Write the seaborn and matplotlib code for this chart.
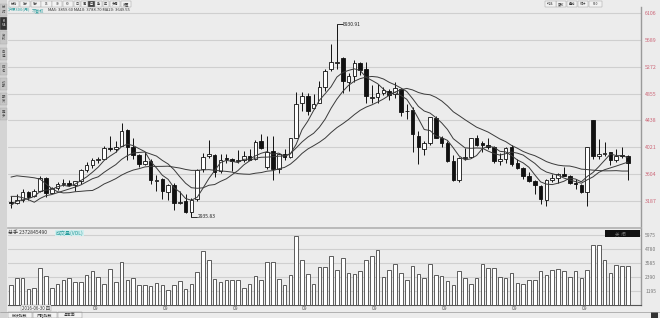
import numpy as np
import pandas as pd
import matplotlib
matplotlib.use("Agg")
import matplotlib.pyplot as plt
import seaborn as sns

# ---------------- data (monthly candles, index 0 = first month shown) ----------------
prior_closes = [2808.8, 3533.7, 3434.4, 3572.8, 3966.0, 4749.9, 4840.8, 4473.0, 3816.7,
                3366.5, 3203.0, 3534.1, 3566.4, 3731.0, 2946.1, 2877.5, 3218.1, 3156.8, 3169.6]

opens = [3170, 3150, 3200, 3325, 3265, 3336, 3538, 3313, 3390, 3450, 3460, 3436, 3490, 3660, 3740, 3823,
         3838, 4005, 3998, 4045, 4280, 4030, 3900, 3757, 3800, 3500, 3520, 3330, 3430, 3155, 3180, 3017,
         3210, 3680, 3880, 3900, 3650, 3850, 3830, 3810, 3814, 3890, 3830, 4120, 3720, 3965, 3680, 3920,
         3870, 4170, 4700, 4820, 4630, 4710, 4960, 5230, 5330, 5400, 5040, 5120, 5330, 5230, 4780, 4800,
         4870, 4900, 4840, 4920, 4580, 4600, 4200, 4000, 4090, 4480, 4160, 4080, 3810, 3510, 3855, 3870,
         4160, 4080, 4050, 4030, 3800, 3840, 4020, 3770, 3690, 3570, 3500, 3420, 3200, 3510, 3540, 3600,
         3580, 3460, 3440, 3320, 4444, 3890, 3920, 3940, 3820, 3890, 3890]
highs = [3263, 3297, 3370, 3342, 3366, 3580, 3550, 3400, 3485, 3530, 3510, 3500, 3680, 3790, 3860, 3869,
         4036, 4200, 4120, 4403, 4296, 4165, 3921, 3943, 3842, 3587, 3535, 3450, 3460, 3340, 3285, 3230,
         3680, 3935, 4127, 3920, 3910, 3918, 3860, 3980, 3960, 3993, 4125, 4220, 4199, 4200, 3920, 4000,
         4170, 4880, 4878, 4870, 4850, 5050, 5230, 5625, 5931, 5420, 5170, 5380, 5350, 5350, 4990, 5010,
         4960, 4920, 5030, 4940, 4690, 4640, 4270, 4110, 4490, 4510, 4200, 4120, 3900, 3865, 4005, 4170,
         4210, 4120, 4160, 4040, 3930, 4020, 4060, 3840, 3720, 3640, 3510, 3440, 3520, 3600, 3620, 3720,
         3595, 3520, 3450, 4017, 4444, 4140, 4100, 3950, 4000, 4030, 3900]
lows = [3075, 3130, 3168, 3200, 3245, 3320, 3247, 3305, 3360, 3420, 3410, 3335, 3450, 3627, 3690, 3782,
        3830, 3954, 3950, 4035, 3829, 3830, 3720, 3740, 3450, 3335, 3215, 3194, 3049, 3130, 2995, 2936,
        3190, 3640, 3850, 3560, 3620, 3770, 3655, 3780, 3790, 3823, 3820, 3990, 3680, 3503, 3620, 3825,
        3860, 4160, 4580, 4520, 4620, 4700, 4890, 5210, 5240, 4860, 4900, 5040, 5150, 4710, 4710, 4710,
        4830, 4750, 4790, 4500, 4460, 3940, 3760, 3900, 4050, 4160, 4030, 3790, 3498, 3480, 3820, 3860,
        4040, 3940, 3990, 3770, 3750, 3780, 3730, 3680, 3520, 3480, 3290, 3130, 3109, 3480, 3470, 3570,
        3450, 3370, 3310, 3108, 3830, 3840, 3880, 3740, 3790, 3860, 3517]
closes = [3154, 3204, 3328, 3253, 3336, 3538, 3310, 3388, 3453, 3456, 3440, 3493, 3667, 3738, 3822, 3837,
          4007, 3998, 4031, 4276, 4024, 3899, 3757, 3802, 3511, 3518, 3335, 3439, 3154, 3173, 3011, 3202,
          3669, 3872, 3913, 3630, 3826, 3835, 3800, 3815, 3887, 3829, 4097, 4004, 3940, 3686, 3913, 3867,
          4164, 4695, 4816, 4587, 4695, 4960, 5211, 5352, 5337, 5048, 5123, 5331, 5224, 4811, 4806, 4866,
          4909, 4832, 4940, 4564, 4582, 4223, 4016, 4091, 4485, 4170, 4079, 3805, 3509, 3853, 3872, 4157,
          4061, 4051, 4029, 3799, 3842, 4014, 3765, 3690, 3573, 3496, 3431, 3215, 3516, 3537, 3604, 3580,
          3462, 3442, 3321, 4018, 3891, 3917, 3935, 3816, 3890, 3887, 3770]
volumes = [1707, 2304, 2304, 1366, 1451, 3158, 2504, 1451, 1792, 2134, 2304, 1992, 1992, 2589, 2930, 2361,
           1792, 3073, 1992, 3642, 2134, 2304, 1735, 1735, 1650, 1849, 1707, 1309, 1707, 2077, 1366, 1792,
           2788, 4637, 3841, 2219, 1992, 2134, 2134, 2134, 1451, 1792, 2504, 2134, 3642, 3699, 2219, 1735,
           2561, 5918, 3841, 2646, 1792, 3272, 3272, 4154, 3016, 4040, 2760, 2674, 2873, 3812, 4154, 4666,
           2390, 3016, 3528, 2731, 2162, 3300, 2674, 2333, 3528, 2589, 2447, 2048, 1735, 2902, 2333, 1764,
           2333, 3528, 3158, 3158, 2390, 2304, 2760, 1878, 1821, 2162, 2105, 2873, 2589, 3016, 3101, 2902,
           2390, 2902, 2333, 2959, 5149, 5149, 3869, 2731, 3442, 3300, 3300]

price_ticks = [3187, 3604, 4021, 4438, 4855, 5272, 5689, 6106]
vol_ticks = [1195, 2390, 3585, 4780, 5975]
year_tick_pos = [14.5, 26.5, 38.5, 50.5, 62.5, 74.5, 86.5, 98.5]
year_tick_labels = ["09"] * 8
ma_windows = [5, 10, 20]
high_label = "5930.91"
low_label = "2935.83"

# ---------------- styling ----------------
sns.set_theme(style="white")
plt.rcParams['font.family'] = ['Noto Sans CJK SC', 'DejaVu Sans']
BG = "#ececec"
GRID = "#cfcfcf"
PINK = "#cc6677"

n = len(closes)
idx = np.arange(n)
df = pd.DataFrame({"i": idx, "open": opens, "high": highs, "low": lows,
                   "close": closes, "vol": volumes})
all_close = pd.Series(prior_closes + closes)
for w in ma_windows:
    df[f"MA{w}"] = all_close.rolling(w, min_periods=1).mean().iloc[len(prior_closes):].values

fig = plt.figure(figsize=(6.6, 3.18), dpi=100, facecolor=BG)
W, H = 660, 318
def fx(px): return px / W
def fy(py): return 1 - py / H

ax = fig.add_axes([fx(8), fy(228), fx(633), 221 / H], facecolor=BG)
axv = fig.add_axes([fx(8), fy(305), fx(633), 76 / H], facecolor=BG)

xlim = (-0.515, 108.25)
# ---- price panel ----
ax.set_xlim(*xlim)
ax.set_ylim(2764, 6200)
for t in price_ticks:
    ax.axhline(t, color=GRID, lw=0.8, zorder=0)
ax.vlines(df["i"], df["low"], df["high"], color="#111111", lw=0.7, zorder=2)
up = df["close"] >= df["open"]
body_lo = np.minimum(df["open"], df["close"])
body_h = np.maximum(np.abs(df["close"] - df["open"]), 8)
ax.bar(df["i"][up], body_h[up], bottom=body_lo[up], width=0.62, color="white",
       edgecolor="#111111", linewidth=0.6, zorder=3)
ax.bar(df["i"][~up], body_h[~up], bottom=body_lo[~up], width=0.62, color="#111111",
       edgecolor="#111111", linewidth=0.6, zorder=3)
for w in ma_windows:
    sns.lineplot(data=df, x="i", y=f"MA{w}", ax=ax, color="#3a3a3a", lw=0.7, zorder=4)

hi_i = int(np.argmax(df["high"])); lo_i = int(np.argmin(df["low"]))
ax.plot([hi_i, hi_i + 1.0], [df["high"][hi_i]] * 2, color="#111111", lw=0.6, zorder=5)
ax.text(hi_i + 1.1, df["high"][hi_i], high_label, fontsize=3.6, va="center", ha="left", color="#222222")
ax.plot([lo_i, lo_i + 1.0], [df["low"][lo_i]] * 2, color="#111111", lw=0.6, zorder=5)
ax.text(lo_i + 1.1, df["low"][lo_i], low_label, fontsize=3.6, va="center", ha="left", color="#222222")

ax.yaxis.tick_right()
ax.set_yticks(price_ticks)
ax.set_yticklabels([str(t) for t in price_ticks], fontsize=3.8, color=PINK)
ax.tick_params(axis="y", length=0, pad=3)
ax.set_xticks([])
ax.set_xlabel(""); ax.set_ylabel("")
for s in ["left", "top"]:
    ax.spines[s].set_visible(False)
ax.spines["right"].set_color("#9a9a9a"); ax.spines["right"].set_linewidth(1.0)
ax.spines["bottom"].set_color("#b0b0b0"); ax.spines["bottom"].set_linewidth(1.2)

# header text (inside the top of the price panel)
last = df.iloc[-1]
ax.text(0.0, 0.995, "沪深300(月)", transform=ax.transAxes, fontsize=3.0, color="#2a9d9d",
        va="top", ha="left")
ax.text(0.037, 0.995, "不复权", transform=ax.transAxes, fontsize=3.0, color="#2a9d9d",
        va="top", ha="left")
ax.text(0.063, 0.995, f"MA5: {last['MA5']:.2f} MA10: {last['MA10']:.2f} MA20: {last['MA20']:.2f}",
        transform=ax.transAxes, fontsize=3.0, color="#333333", va="top", ha="left")

# ---- volume panel ----
sns.barplot(data=df, x="i", y="vol", ax=axv, native_scale=True, width=0.62, color="white",
            edgecolor="#444444", linewidth=0.6, errorbar=None, zorder=3)
axv.set_xlim(*xlim)
axv.set_ylim(0, 6487)
for t in vol_ticks:
    axv.axhline(t, color=GRID, lw=0.8, zorder=0)
axv.yaxis.tick_right()
axv.set_yticks(vol_ticks)
axv.set_yticklabels([str(t) for t in vol_ticks], fontsize=3.6, color="#777777")
axv.tick_params(axis="y", length=0, pad=3)
axv.set_xticks(year_tick_pos)
axv.set_xticklabels(year_tick_labels, fontsize=3.6, color="#555555")
axv.tick_params(axis="x", length=0, pad=1)
axv.set_xlabel(""); axv.set_ylabel("")
for s in ["left", "top"]:
    axv.spines[s].set_visible(False)
axv.spines["right"].set_color("#9a9a9a"); axv.spines["right"].set_linewidth(1.0)
axv.spines["bottom"].set_color("#555555"); axv.spines["bottom"].set_linewidth(0.8)
axv.text(0.0, 0.985, "总手 2372845490", transform=axv.transAxes, fontsize=3.6, color="#333333",
         va="top", ha="left")
axv.text(0.075, 0.985, "成交量(VOL)", transform=axv.transAxes, fontsize=3.6, color="#2a9d9d",
         va="top", ha="left", bbox=dict(boxstyle="square,pad=0.1", fc="#cfeeee", ec="none"))
fig.patches.append(plt.Rectangle((fx(605), fy(237)), fx(35), 7 / H, transform=fig.transFigure,
                                 fc="#111111", ec="none"))
fig.text(fx(620), fy(233.5), "关  闭", fontsize=3.2, color="#777777", ha="center", va="center")

# ---- chrome: left strip, toolbar, bottom tabs ----
fig.patches.append(plt.Rectangle((0, fy(318)), fx(7), 1, transform=fig.transFigure,
                                 fc="#d4d4d4", ec="none"))
tabs = [("分时", 4, 16), ("K线", 17, 30), ("资料", 31, 44), ("自选", 48, 60),
        ("排名", 63, 75), ("诊股", 78, 90), ("期货", 93, 105), ("更多", 108, 120)]
for name, a, b in tabs:
    dark = name == "K线"
    fig.patches.append(plt.Rectangle((0, fy(b)), fx(7), (b - a) / H, transform=fig.transFigure,
                                     fc="#333333" if dark else "#c6c6c6", ec="#aaaaaa", lw=0.3))
    fig.text(fx(3.5), fy((a + b) / 2), "\n".join(name), fontsize=2.4,
             color="white" if dark else "#444444", ha="center", va="center", linespacing=1.0)

btns = ["分时", "1分", "5分", "15", "30", "60", "日", "周", "月", "季", "年", "多周", "设置"]
x0 = 9
for b in btns:
    w = 3 + 3.6 * len(b)
    dark = b == "月"
    fig.patches.append(plt.Rectangle((fx(x0), fy(7)), fx(w), 6 / H, transform=fig.transFigure,
                                     fc="#444444" if dark else "#f2f2f2", ec="#999999", lw=0.3))
    fig.text(fx(x0 + w / 2), fy(4), b, fontsize=2.3, color="white" if dark else "#333333",
             ha="center", va="center")
    x0 += w + 0.6
rbtns = ["均线", "复权", "叠加", "统计", "F10"]
x0 = 603
for b in reversed(rbtns):
    w = 3 + 3.6 * len(b)
    x0 -= w + 0.6
    fig.patches.append(plt.Rectangle((fx(x0), fy(7)), fx(w), 6 / H, transform=fig.transFigure,
                                     fc="#f2f2f2", ec="#999999", lw=0.3))
    fig.text(fx(x0 + w / 2), fy(4), b, fontsize=2.3, color="#333333", ha="center", va="center")

fig.text(fx(36), fy(308), "2016-06-30 四", fontsize=3.2, color="#333333", ha="center", va="center",
         bbox=dict(boxstyle="square,pad=0.15", fc="#f4f4f4", ec="#888888", lw=0.3))
btabs = ["板块指数", "风格指数", "基本面"]
x0 = 8
for b in btabs:
    w = 24
    fig.patches.append(plt.Rectangle((fx(x0), fy(318)), fx(w), 6 / H, transform=fig.transFigure,
                                     fc="#f2f2f2", ec="#888888", lw=0.3))
    fig.text(fx(x0 + w / 2), fy(315), b, fontsize=2.8, color="#333333", ha="center", va="center")
    x0 += w + 1
fig.lines.append(plt.Line2D([0, 1], [fy(311.5)] * 2, transform=fig.transFigure, color="#999999", lw=0.5))
fig.patches.append(plt.Rectangle((fx(651), fy(318)), fx(7), 6 / H, transform=fig.transFigure,
                                 fc="#333333", ec="none"))

fig.savefig("out.png", dpi=100, facecolor=BG)
